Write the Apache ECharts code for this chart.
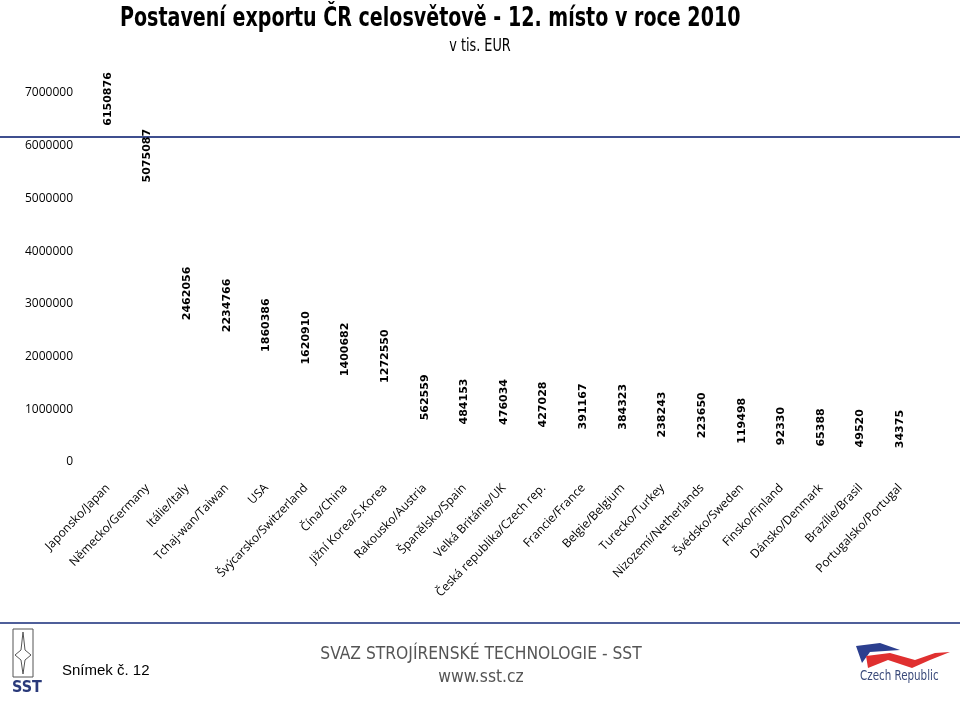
<!DOCTYPE html>
<html>
<head>
<meta charset="utf-8">
<script src="https://cdn.jsdelivr.net/npm/echarts@6/dist/echarts.min.js"></script>
<style>
html,body{margin:0;padding:0;background:#fff;}
#c{width:960px;height:705px;}
</style>
</head>
<body>
<div id="c"></div>
<script>
var categories = ["Japonsko/Japan","Německo/Germany","Itálie/Italy","Tchaj-wan/Taiwan","USA","Švýcarsko/Switzerland","Čína/China","Jižní Korea/S.Korea","Rakousko/Austria","Španělsko/Spain","Velká Británie/UK","Česká republika/Czech rep.","Francie/France","Belgie/Belgium","Turecko/Turkey","Nizozemí/Netherlands","Švédsko/Sweden","Finsko/Finland","Dánsko/Denmark","Brazílie/Brasil","Portugalsko/Portugal"];
var exportValues = [6150876,5075087,2462056,2234766,1860386,1620910,1400682,1272550,562559,484153,476034,427028,391167,384323,238243,223650,119498,92330,65388,49520,34375];
var yTicks = {min:0, max:7000000, interval:1000000};

var cond = "'DejaVu Sans Condensed','Open Sans',sans-serif";
var chart = echarts.init(document.getElementById('c'), null, {renderer:'canvas'});
chart.setOption({
  animation:false,
  backgroundColor:'#fff',
  grid:{left:88, right:40, top:93, bottom:243, containLabel:false},
  xAxis:{
    type:'category', data:categories,
    axisLine:{show:false}, axisTick:{show:false},
    axisLabel:{interval:0, rotate:46, margin:24, fontFamily:"'Open Sans',sans-serif", fontSize:12, color:'#000'}
  },
  yAxis:{
    type:'value', min:yTicks.min, max:yTicks.max, interval:yTicks.interval,
    axisLine:{show:false}, axisTick:{show:false}, splitLine:{show:false},
    axisLabel:{margin:15, fontFamily:"'Open Sans',sans-serif", fontSize:12, color:'#000',
      formatter:function(v){return String(v);}}
  },
  series:[{
    type:'bar', data:exportValues, barWidth:'50%',
    itemStyle:{color:'rgba(0,0,0,0)'},
    label:{show:true, position:'top', distance:12, rotate:90, align:'left', verticalAlign:'middle',
      fontFamily:"'DejaVu Sans',sans-serif", fontWeight:'bold', fontSize:11, color:'#000'}
  }],
  graphic:[
    {type:'text', x:120, y:5, scaleX:0.785, originX:0, style:{text:'Postavení exportu ČR celosvětově - 12. místo v roce 2010', x:0, y:0, fontFamily:cond, fontWeight:'bold', fontSize:27, fill:'#000'}},
    {type:'text', x:480, y:38, scaleX:0.84, style:{text:'v tis. EUR', x:0, y:0, textAlign:'center', fontFamily:cond, fontSize:17, fill:'#000'}},
    {type:'line', shape:{x1:0,y1:137,x2:960,y2:137}, style:{stroke:'#3f4f8f', lineWidth:2}, z:-1},
    {type:'line', shape:{x1:0,y1:623,x2:960,y2:623}, style:{stroke:'#4f5f9a', lineWidth:2}},
    {type:'rect', shape:{x:13,y:629,width:20,height:48}, style:{fill:'none', stroke:'#555', lineWidth:1}},
    {type:'polygon', shape:{points:[[23,632],[25,650],[31,655],[25,660],[23,674],[21,660],[15,655],[21,650]]}, style:{fill:'none', stroke:'#555', lineWidth:1}},
    {type:'text', x:12, y:680, style:{text:'SST', x:0, y:0, fontFamily:cond, fontWeight:'bold', fontSize:16, fill:'#2a3a7a'}},
    {type:'text', x:62, y:663, style:{text:'Snímek č. 12', x:0, y:0, fontFamily:"'Liberation Sans',Arial,sans-serif", fontSize:15, fill:'#000'}},
    {type:'text', x:481, y:645, scaleX:0.96, style:{text:'SVAZ STROJÍRENSKÉ TECHNOLOGIE - SST', x:0, y:0, textAlign:'center', fontFamily:cond, fontSize:18, fill:'#555'}},
    {type:'text', x:481, y:668, scaleX:0.96, style:{text:'www.sst.cz', x:0, y:0, textAlign:'center', fontFamily:cond, fontSize:18, fill:'#555'}},
    {type:'polygon', shape:{points:[[856,646],[880,643],[900,650],[870,652],[862,663]]}, style:{fill:'#2c3f8f'}},
    {type:'polygon', shape:{points:[[866,656],[890,653],[915,660],[935,653],[950,652],[930,660],[912,668],[888,660],[868,668]]}, style:{fill:'#e03030'}},
    {type:'text', x:860, y:669, scaleX:0.82, style:{text:'Czech Republic', x:0, y:0, fontFamily:cond, fontSize:14, fill:'#3a4a7a'}}
  ]
});
</script>
</body>
</html>
